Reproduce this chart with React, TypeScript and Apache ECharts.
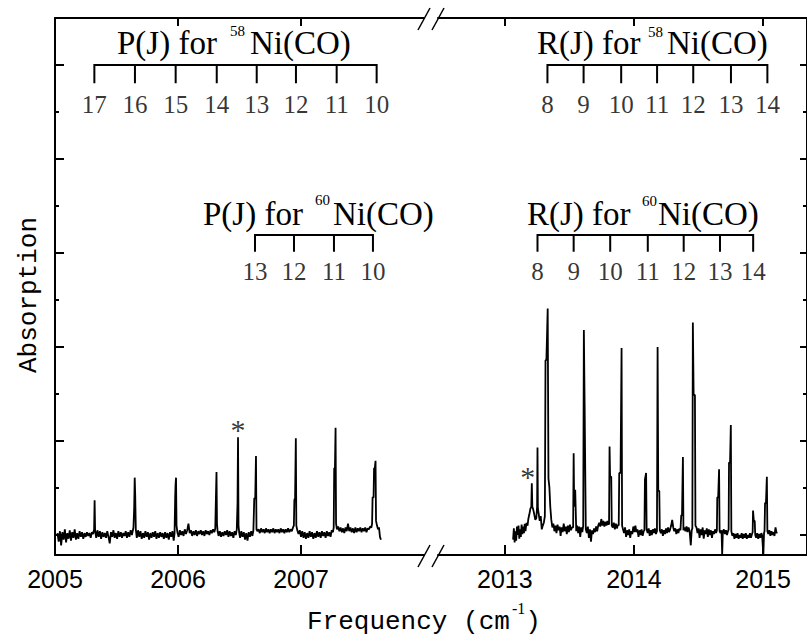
import React, { useEffect, useRef } from "react";
import * as echarts from "echarts";

// Spectrum traces: [frequency (cm^-1), absorption]
const leftSpectrum: [number, number][] = [
  [2005.02, 0.02], [2005.03, -0.07], [2005.04, 0.04], [2005.05, -0.11], [2005.06, 0.03], [2005.07, -0.05],
  [2005.08, 0.06], [2005.09, -0.08], [2005.1, 0.02], [2005.11, -0.04], [2005.12, 0.05], [2005.13, -0.06],
  [2005.14, 0.03], [2005.15, -0.03], [2005.16, 0.06], [2005.17, -0.05], [2005.18, 0.02], [2005.19, -0.04],
  [2005.2, 0.04], [2005.21, -0.02], [2005.22, 0.03], [2005.23, -0.04], [2005.24, 0.02], [2005.25, -0.02],
  [2005.26, 0.03], [2005.27, -0.01], [2005.28, 0.02], [2005.29, -0.03], [2005.3, 0.03], [2005.31, 0.01],
  [2005.318, 0.06], [2005.322, 0.37], [2005.326, 0.05],
  [2005.335, -0.03], [2005.345, 0.05], [2005.355, -0.02], [2005.365, 0.04], [2005.375, -0.04], [2005.385, 0.03],
  [2005.395, -0.02], [2005.405, 0.02], [2005.415, -0.03], [2005.425, 0.04], [2005.435, -0.02], [2005.445, -0.09],
  [2005.455, 0.03], [2005.465, -0.02], [2005.475, 0.05], [2005.485, -0.03], [2005.495, 0.02], [2005.505, -0.04],
  [2005.515, 0.04], [2005.525, -0.02], [2005.535, 0.03], [2005.545, -0.03], [2005.555, 0.02], [2005.565, -0.01],
  [2005.575, 0.04], [2005.585, -0.03], [2005.595, 0.03], [2005.605, -0.02], [2005.615, 0.05], [2005.625, 0.0],
  [2005.638, 0.08], [2005.644, 0.3], [2005.648, 0.61], [2005.652, 0.43], [2005.657, 0.06],
  [2005.665, -0.03], [2005.675, 0.05], [2005.685, -0.02], [2005.695, 0.04], [2005.705, -0.04], [2005.715, 0.02],
  [2005.725, -0.03], [2005.735, 0.04], [2005.745, -0.02], [2005.755, 0.03], [2005.765, -0.05], [2005.775, 0.02],
  [2005.785, -0.03], [2005.795, 0.03], [2005.805, -0.02], [2005.815, 0.04], [2005.825, -0.04], [2005.835, 0.02],
  [2005.845, -0.03], [2005.855, 0.03], [2005.865, -0.02], [2005.875, 0.02], [2005.885, -0.04], [2005.895, 0.03],
  [2005.905, -0.03], [2005.915, 0.02], [2005.925, -0.05], [2005.935, 0.03], [2005.945, -0.02], [2005.955, 0.04],
  [2005.965, -0.06], [2005.972, 0.02],
  [2005.977, 0.4], [2005.98, 0.53], [2005.984, 0.61], [2005.988, 0.1],
  [2005.995, 0.03], [2006.005, -0.02], [2006.015, 0.05], [2006.025, 0.0], [2006.035, 0.04], [2006.045, -0.01],
  [2006.055, 0.06], [2006.065, 0.01], [2006.075, 0.05], [2006.085, 0.12], [2006.095, 0.02], [2006.105, 0.05],
  [2006.115, -0.01], [2006.125, 0.04], [2006.135, 0.0], [2006.145, 0.05], [2006.155, -0.01], [2006.165, 0.04],
  [2006.175, 0.01], [2006.185, 0.05], [2006.195, 0.0], [2006.205, 0.04], [2006.215, -0.01], [2006.225, 0.05],
  [2006.235, 0.01], [2006.245, 0.04], [2006.255, 0.0], [2006.265, 0.05], [2006.275, 0.02], [2006.285, 0.06],
  [2006.295, 0.03], [2006.303, 0.07],
  [2006.309, 0.44], [2006.313, 0.67], [2006.317, 0.12], [2006.322, 0.04],
  [2006.33, -0.01], [2006.34, 0.04], [2006.35, -0.02], [2006.36, 0.03], [2006.37, -0.01], [2006.38, 0.04],
  [2006.39, 0.0], [2006.4, 0.05], [2006.41, -0.02], [2006.42, 0.04], [2006.43, -0.01], [2006.44, 0.03],
  [2006.45, -0.03], [2006.46, 0.04], [2006.47, 0.0], [2006.478, 0.06],
  [2006.484, 0.34], [2006.488, 1.04], [2006.492, 0.1], [2006.498, 0.02],
  [2006.505, -0.03], [2006.515, 0.04], [2006.525, -0.02], [2006.535, 0.03], [2006.545, -0.05], [2006.555, 0.02],
  [2006.565, -0.06], [2006.575, 0.03], [2006.585, -0.02], [2006.595, 0.04], [2006.605, -0.01], [2006.613, 0.05],
  [2006.618, 0.05], [2006.62, 0.39], [2006.628, 0.39], [2006.634, 0.84], [2006.638, 0.06],
  [2006.645, 0.04], [2006.655, 0.06], [2006.665, 0.02], [2006.675, 0.07], [2006.685, 0.03], [2006.695, 0.06],
  [2006.705, 0.02], [2006.715, 0.07], [2006.725, 0.03], [2006.735, 0.06], [2006.745, 0.02], [2006.755, 0.06],
  [2006.765, 0.03], [2006.775, 0.07], [2006.785, 0.02], [2006.795, 0.06], [2006.805, 0.03], [2006.815, 0.06],
  [2006.825, 0.02], [2006.835, 0.07], [2006.845, 0.03], [2006.855, 0.06], [2006.865, 0.02], [2006.875, 0.06],
  [2006.885, 0.03], [2006.895, 0.07], [2006.905, 0.03], [2006.915, 0.06], [2006.925, 0.04], [2006.935, 0.08],
  [2006.942, 0.1], [2006.946, 0.37], [2006.952, 0.4], [2006.958, 1.03], [2006.962, 0.1],
  [2006.97, 0.05], [2006.98, 0.01], [2006.99, 0.05], [2007.0, -0.02], [2007.01, 0.04], [2007.02, -0.03],
  [2007.03, 0.03], [2007.04, -0.04], [2007.05, 0.02], [2007.06, -0.03], [2007.07, 0.04], [2007.08, -0.02],
  [2007.09, 0.03], [2007.1, -0.04], [2007.11, 0.02], [2007.12, -0.03], [2007.13, 0.04], [2007.14, -0.02],
  [2007.15, 0.03], [2007.16, -0.03], [2007.17, 0.04], [2007.18, -0.01], [2007.19, 0.03], [2007.2, -0.03],
  [2007.21, 0.04], [2007.22, -0.01], [2007.23, 0.03], [2007.24, -0.02], [2007.25, 0.05], [2007.26, 0.03],
  [2007.266, 0.08], [2007.27, 0.71], [2007.276, 0.71], [2007.281, 1.14], [2007.285, 0.12],
  [2007.292, 0.06], [2007.302, 0.09], [2007.312, 0.04], [2007.322, 0.08], [2007.332, 0.03], [2007.342, 0.07],
  [2007.352, 0.02], [2007.362, 0.08], [2007.372, 0.04], [2007.382, 0.12], [2007.392, 0.04], [2007.402, 0.08],
  [2007.412, 0.03], [2007.422, 0.07], [2007.432, 0.02], [2007.442, 0.08], [2007.452, 0.03], [2007.462, 0.07],
  [2007.472, 0.04], [2007.482, 0.08], [2007.492, 0.03], [2007.502, 0.07], [2007.512, 0.04], [2007.522, 0.08],
  [2007.532, 0.03], [2007.542, 0.07], [2007.552, 0.06], [2007.562, 0.09], [2007.572, 0.08], [2007.578, 0.12],
  [2007.582, 0.4], [2007.59, 0.4], [2007.594, 0.71], [2007.6, 0.71], [2007.606, 0.79], [2007.61, 0.15],
  [2007.618, 0.1], [2007.626, 0.06], [2007.634, 0.08], [2007.642, -0.02], [2007.65, -0.05],
];

const rightSpectrum: [number, number][] = [
  [2013.064, -0.05], [2013.07, 0.07], [2013.076, -0.08], [2013.082, 0.04], [2013.088, -0.06], [2013.094, 0.09],
  [2013.1, 0.0], [2013.106, 0.1], [2013.112, -0.04], [2013.118, 0.06], [2013.124, -0.02], [2013.13, 0.11],
  [2013.136, 0.01], [2013.142, 0.09], [2013.148, 0.02], [2013.154, 0.12], [2013.16, 0.04], [2013.168, 0.13],
  [2013.176, 0.1], [2013.182, 0.17], [2013.19, 0.22], [2013.198, 0.28], [2013.205, 0.3], [2013.209, 0.55],
  [2013.213, 0.3], [2013.22, 0.27], [2013.228, 0.22], [2013.236, 0.16], [2013.244, 0.18], [2013.25, 0.3],
  [2013.253, 0.93], [2013.256, 0.28], [2013.262, 0.23], [2013.27, 0.15], [2013.278, 0.2], [2013.286, 0.06],
  [2013.294, 0.1], [2013.302, 0.13], [2013.31, 0.2], [2013.315, 1.86], [2013.322, 1.86], [2013.332, 2.41],
  [2013.338, 0.6], [2013.345, 0.51], [2013.352, 0.3], [2013.36, 0.16], [2013.368, 0.08], [2013.376, 0.12],
  [2013.384, 0.04], [2013.392, 0.1], [2013.4, 0.02], [2013.408, 0.11], [2013.416, 0.05], [2013.424, 0.09],
  [2013.432, -0.01], [2013.44, 0.08], [2013.448, 0.03], [2013.456, 0.12], [2013.464, 0.04], [2013.472, 0.09],
  [2013.48, 0.01], [2013.488, 0.1], [2013.496, 0.03], [2013.504, 0.11], [2013.512, 0.05], [2013.52, 0.08],
  [2013.529, 0.08], [2013.533, 0.87], [2013.537, 0.3], [2013.545, 0.48], [2013.549, 0.48], [2013.553, 0.04],
  [2013.56, 0.1], [2013.568, 0.02], [2013.576, 0.09], [2013.584, -0.02], [2013.592, 0.08], [2013.6, 0.03],
  [2013.607, 0.1], [2013.612, 2.18], [2013.618, 1.38], [2013.623, 1.38], [2013.627, 0.06],
  [2013.635, 0.02], [2013.643, 0.09], [2013.651, -0.03], [2013.659, 0.06], [2013.667, -0.07], [2013.675, 0.05],
  [2013.683, 0.01], [2013.691, 0.07], [2013.699, 0.03], [2013.707, 0.09], [2013.715, 0.04], [2013.723, 0.1],
  [2013.731, 0.13], [2013.739, 0.09], [2013.747, 0.17], [2013.755, 0.1], [2013.763, 0.15], [2013.771, 0.09],
  [2013.779, 0.14], [2013.787, 0.1], [2013.795, 0.15], [2013.803, 0.11], [2013.807, 0.12], [2013.811, 0.94],
  [2013.815, 0.62], [2013.824, 0.62], [2013.828, 0.1], [2013.836, 0.08], [2013.844, 0.13], [2013.852, 0.06],
  [2013.86, 0.12], [2013.868, 0.07], [2013.876, 0.11], [2013.882, 0.1], [2013.886, 0.66], [2013.896, 0.66],
  [2013.904, 1.99], [2013.908, 0.1], [2013.915, 0.06], [2013.923, 0.02], [2013.931, 0.08], [2013.939, -0.02],
  [2013.947, 0.05], [2013.955, 0.0], [2013.963, 0.06], [2013.971, -0.03], [2013.979, 0.04], [2013.987, 0.01],
  [2013.995, 0.09], [2014.003, 0.03], [2014.011, 0.1], [2014.019, 0.03], [2014.027, 0.06], [2014.035, -0.02],
  [2014.043, 0.05], [2014.051, 0.0], [2014.059, 0.06], [2014.067, -0.01], [2014.075, 0.04], [2014.081, 0.05],
  [2014.085, 0.59], [2014.09, 0.59], [2014.094, 0.66], [2014.098, 0.06], [2014.106, 0.02], [2014.114, 0.07],
  [2014.122, -0.01], [2014.13, 0.05], [2014.138, 0.0], [2014.146, 0.06], [2014.154, 0.02], [2014.162, 0.07],
  [2014.17, 0.01], [2014.178, 0.04], [2014.183, 2.0], [2014.188, 0.47], [2014.196, 0.47], [2014.2, 0.05],
  [2014.208, 0.02], [2014.216, 0.06], [2014.224, -0.01], [2014.232, 0.05], [2014.24, 0.01], [2014.248, 0.07],
  [2014.256, 0.02], [2014.264, 0.08], [2014.272, 0.03], [2014.28, 0.06], [2014.288, 0.1], [2014.296, 0.16],
  [2014.304, 0.08], [2014.312, 0.04], [2014.32, 0.07], [2014.328, 0.01], [2014.336, 0.06], [2014.344, 0.02],
  [2014.352, 0.07], [2014.36, 0.05], [2014.366, 0.21], [2014.372, 0.21], [2014.379, 0.83], [2014.383, 0.05],
  [2014.391, 0.08], [2014.399, 0.04], [2014.407, 0.09], [2014.415, 0.03], [2014.423, 0.08], [2014.431, 0.04],
  [2014.44, -0.11], [2014.447, 0.05], [2014.452, 0.07], [2014.456, 2.26], [2014.462, 1.49], [2014.472, 1.49],
  [2014.476, 0.1], [2014.484, 0.08], [2014.492, 0.02], [2014.5, 0.07], [2014.508, -0.03], [2014.516, 0.06],
  [2014.524, 0.0], [2014.532, 0.08], [2014.54, -0.04], [2014.548, 0.05], [2014.556, 0.01], [2014.564, 0.07],
  [2014.572, -0.02], [2014.58, 0.06], [2014.588, 0.0], [2014.596, 0.05], [2014.604, -0.03], [2014.612, 0.04],
  [2014.62, 0.01], [2014.628, 0.06], [2014.636, 0.02], [2014.642, 0.05], [2014.645, 0.4], [2014.652, 0.4],
  [2014.659, 0.7], [2014.663, 0.04], [2014.67, 0.02], [2014.678, 0.05], [2014.683, -0.21], [2014.688, 0.03],
  [2014.696, 0.06], [2014.704, 0.01], [2014.712, 0.05], [2014.72, 0.0], [2014.728, 0.04], [2014.733, 0.06],
  [2014.736, 0.77], [2014.744, 0.77], [2014.75, 1.17], [2014.754, 0.04], [2014.762, -0.01], [2014.77, 0.02],
  [2014.778, -0.04], [2014.786, 0.01], [2014.794, -0.03], [2014.802, 0.02], [2014.81, -0.04], [2014.818, 0.0],
  [2014.826, -0.03], [2014.834, 0.02], [2014.842, -0.04], [2014.85, 0.01], [2014.858, -0.03], [2014.866, 0.02],
  [2014.874, -0.04], [2014.882, 0.0], [2014.89, -0.03], [2014.898, 0.02], [2014.906, -0.03], [2014.914, 0.01],
  [2014.919, 0.03], [2014.922, 0.26], [2014.928, 0.15], [2014.935, 0.15], [2014.939, 0.0], [2014.946, -0.03],
  [2014.954, 0.02], [2014.962, -0.04], [2014.97, 0.01], [2014.978, -0.03], [2014.986, 0.02], [2014.992, 0.0],
  [2015.002, -0.21], [2015.007, 0.02], [2015.011, 0.04], [2015.015, 0.34], [2015.022, 0.34], [2015.029, 0.62],
  [2015.033, 0.04], [2015.04, 0.01], [2015.048, 0.05], [2015.056, -0.01], [2015.064, 0.04], [2015.072, 0.0],
  [2015.08, 0.03], [2015.088, -0.01], [2015.096, 0.08], [2015.104, 0.02], [2015.108, 0.03],
];

// Rotational line assignments (line positions and J labels)
const p58Lines = [2005.32, 2005.65, 2005.981, 2006.315, 2006.64, 2006.959, 2007.29, 2007.615];
const p58J = ["17", "16", "15", "14", "13", "12", "11", "10"];
const p60Lines = [2006.626, 2006.943, 2007.268, 2007.585];
const p60J = ["13", "12", "11", "10"];
const r58Lines = [2013.33, 2013.61, 2013.901, 2014.179, 2014.459, 2014.751, 2015.033];
const r58J = ["8", "9", "10", "11", "12", "13", "14"];
const r60Lines = [2013.253, 2013.533, 2013.816, 2014.107, 2014.385, 2014.666, 2014.923];
const r60J = ["8", "9", "10", "11", "12", "13", "14"];

// Peaks marked with an asterisk
const leftStar: [number, number] = [2006.488, 1.117];
const rightStar: [number, number] = [2013.178, 0.617];

// Axis ticks
const leftTicks = [2005, 2006, 2007];
const rightTicks = [2013, 2014, 2015];
const yMajor = [0, 1, 2, 3, 4, 5];
const yMinor = [0.5, 1.5, 2.5, 3.5, 4.5];

// Axis ranges
const Y_MIN = -0.213;
const Y_MAX = 5.5;
const LEFT_MIN = 2005;
const LEFT_MAX = 2008;
const RIGHT_MIN = 2012.4826;
const RIGHT_MAX = 2015.3398;

// Bracket levels (absorption units)
const UPPER_TOP = 5.0;
const UPPER_FOOT = 4.805;
const UPPER_LABEL = 4.585;
const LOWER_TOP = 3.191;
const LOWER_FOOT = 3.012;
const LOWER_LABEL = 2.8;

const BLACK = "#000";
const SERIF = "Liberation Serif";
const MONO = "Liberation Mono";

function bracketPath(lines: number[], top: number, foot: number): number[][] {
  const pts: number[][] = [];
  lines.forEach((f, i) => {
    if (i === 0) {
      pts.push([f, foot], [f, top]);
    } else {
      pts.push([f, top], [f, foot], [f, top]);
    }
  });
  return pts;
}

const markLabel = {
  show: true,
  position: "inside",
  formatter: "{b}",
  color: BLACK,
  fontFamily: SERIF,
  textBorderWidth: 0,
  textBorderColor: "transparent",
};

function bracketSeries(lines: number[], labels: string[], top: number, foot: number, labelY: number, grid: number) {
  const xi = grid === 0 ? 0 : 2;
  return [
    {
      type: "line",
      xAxisIndex: xi,
      yAxisIndex: grid,
      data: bracketPath(lines, top, foot),
      symbol: "none",
      silent: true,
      lineStyle: { color: BLACK, width: 2, join: "miter" },
    },
    {
      type: "scatter",
      xAxisIndex: xi,
      yAxisIndex: grid,
      symbolSize: 1,
      silent: true,
      itemStyle: { color: "rgba(0,0,0,0)" },
      data: lines.map((f, i) => ({ value: [f, labelY], name: labels[i] })),
      label: { ...markLabel, fontSize: 25 },
    },
  ];
}

function starSeries(point: [number, number], grid: number) {
  return {
    type: "scatter",
    xAxisIndex: grid === 0 ? 0 : 2,
    yAxisIndex: grid,
    symbolSize: 1,
    silent: true,
    itemStyle: { color: "rgba(0,0,0,0)" },
    data: [{ value: point, name: "*" }],
    label: { ...markLabel, fontSize: 30 },
  };
}

function txt(text: string, x: number, y: number, size: number, family: string, align = "left", rotation = 0) {
  return {
    type: "text",
    x,
    y,
    rotation,
    silent: true,
    style: {
      text,
      fill: BLACK,
      fontSize: size,
      fontFamily: family,
      align,
      verticalAlign: "middle",
    },
  };
}

function slash(x1: number, y1: number, x2: number, y2: number) {
  return {
    type: "line",
    silent: true,
    shape: { x1, y1, x2, y2 },
    style: { stroke: BLACK, lineWidth: 1.5 },
  };
}

export default function App() {
  const ref = useRef<HTMLDivElement>(null);

  useEffect(() => {
    if (!ref.current) return;
    const chart = echarts.init(ref.current, undefined, { renderer: "svg" });

    const frame = { show: true, onZero: false, lineStyle: { color: BLACK, width: 2 } };
    const tickStyle = { color: BLACK, width: 2 };
    const tickLabel = {
      color: BLACK,
      fontFamily: "Liberation Sans",
      fontSize: 25,
      margin: 11,
      formatter: (v: number) => String(Math.round(v)),
    };
    const noSplit = { show: false };

    const option: any = {
      animation: false,
      backgroundColor: "#fff",
      grid: [
        { left: 55, top: 18, width: 369, height: 537 },
        { left: 438, top: 18, width: 370, height: 537 },
      ],
      xAxis: [
        {
          gridIndex: 0, type: "value", position: "bottom", min: LEFT_MIN, max: LEFT_MAX,
          axisLine: frame,
          axisTick: { show: true, inside: true, length: 10, customValues: [2006, 2007], lineStyle: tickStyle },
          axisLabel: { show: true, customValues: leftTicks, ...tickLabel },
          splitLine: noSplit,
        },
        {
          gridIndex: 0, type: "value", position: "top", min: LEFT_MIN, max: LEFT_MAX,
          axisLine: frame,
          axisTick: { show: true, inside: true, length: 8, customValues: [2006, 2007], lineStyle: tickStyle },
          axisLabel: { show: false },
          splitLine: noSplit,
        },
        {
          gridIndex: 1, type: "value", position: "bottom", min: RIGHT_MIN, max: RIGHT_MAX,
          axisLine: frame,
          axisTick: { show: true, inside: true, length: 10, customValues: rightTicks, lineStyle: tickStyle },
          axisLabel: { show: true, customValues: rightTicks, ...tickLabel },
          splitLine: noSplit,
        },
        {
          gridIndex: 1, type: "value", position: "top", min: RIGHT_MIN, max: RIGHT_MAX,
          axisLine: frame,
          axisTick: { show: true, inside: true, length: 8, customValues: rightTicks, lineStyle: tickStyle },
          axisLabel: { show: false },
          splitLine: noSplit,
        },
      ],
      yAxis: [
        {
          gridIndex: 0, type: "value", position: "left", min: Y_MIN, max: Y_MAX,
          axisLine: frame,
          axisTick: { show: true, inside: true, length: 9, customValues: yMajor, lineStyle: tickStyle },
          axisLabel: { show: false },
          splitLine: noSplit,
        },
        {
          gridIndex: 1, type: "value", position: "right", min: Y_MIN, max: Y_MAX,
          axisLine: frame,
          axisTick: { show: true, inside: true, length: 7, customValues: yMajor, lineStyle: tickStyle },
          axisLabel: { show: false },
          splitLine: noSplit,
        },
        {
          gridIndex: 0, type: "value", position: "left", min: Y_MIN, max: Y_MAX,
          axisLine: { show: false, onZero: false },
          axisTick: { show: true, inside: true, length: 4, customValues: yMinor, lineStyle: tickStyle },
          axisLabel: { show: false },
          splitLine: noSplit,
        },
        {
          gridIndex: 1, type: "value", position: "right", min: Y_MIN, max: Y_MAX,
          axisLine: { show: false, onZero: false },
          axisTick: { show: true, inside: true, length: 4, customValues: yMinor, lineStyle: tickStyle },
          axisLabel: { show: false },
          splitLine: noSplit,
        },
      ],
      series: [
        {
          type: "line", xAxisIndex: 0, yAxisIndex: 0, data: leftSpectrum, symbol: "none", silent: true,
          lineStyle: { color: BLACK, width: 1.8, join: "bevel" },
        },
        {
          type: "line", xAxisIndex: 2, yAxisIndex: 1, data: rightSpectrum, symbol: "none", silent: true,
          lineStyle: { color: BLACK, width: 1.8, join: "bevel" },
        },
        ...bracketSeries(p58Lines, p58J, UPPER_TOP, UPPER_FOOT, UPPER_LABEL, 0),
        ...bracketSeries(p60Lines, p60J, LOWER_TOP, LOWER_FOOT, LOWER_LABEL, 0),
        ...bracketSeries(r58Lines, r58J, UPPER_TOP, UPPER_FOOT, UPPER_LABEL, 1),
        ...bracketSeries(r60Lines, r60J, LOWER_TOP, LOWER_FOOT, LOWER_LABEL, 1),
        starSeries(leftStar, 0),
        starSeries(rightStar, 1),
      ],
      graphic: [
        // branch titles
        txt("P(J) for", 117, 43, 33, SERIF),
        txt("58", 230, 31, 15, SERIF),
        txt("Ni(CO)", 250, 43, 33, SERIF),
        txt("P(J) for", 203, 214, 33, SERIF),
        txt("60", 315, 200, 15, SERIF),
        txt("Ni(CO)", 333, 214, 33, SERIF),
        txt("R(J) for", 537, 43, 33, SERIF),
        txt("58", 648, 32, 15, SERIF),
        txt("Ni(CO)", 667, 43, 33, SERIF),
        txt("R(J) for", 527, 214, 33, SERIF),
        txt("60", 642, 201, 15, SERIF),
        txt("Ni(CO)", 658, 214, 33, SERIF),
        // axis titles
        txt("Absorption", 29, 295, 26, MONO, "center", Math.PI / 2),
        txt("Frequency (cm", 307, 622, 26, MONO),
        txt("-1", 512, 608, 16, SERIF),
        txt(")", 533, 622, 26, MONO, "center"),
        // axis break marks
        slash(418, 30, 430, 8),
        slash(432, 30, 444, 8),
        slash(418, 567, 430, 545),
        slash(432, 567, 444, 545),
      ],
    };

    chart.setOption(option);
    return () => chart.dispose();
  }, []);

  return (
    <div
      ref={ref}
      style={{ position: "absolute", left: 0, top: 0, width: 807, height: 637, background: "#fff" }}
    />
  );
}
